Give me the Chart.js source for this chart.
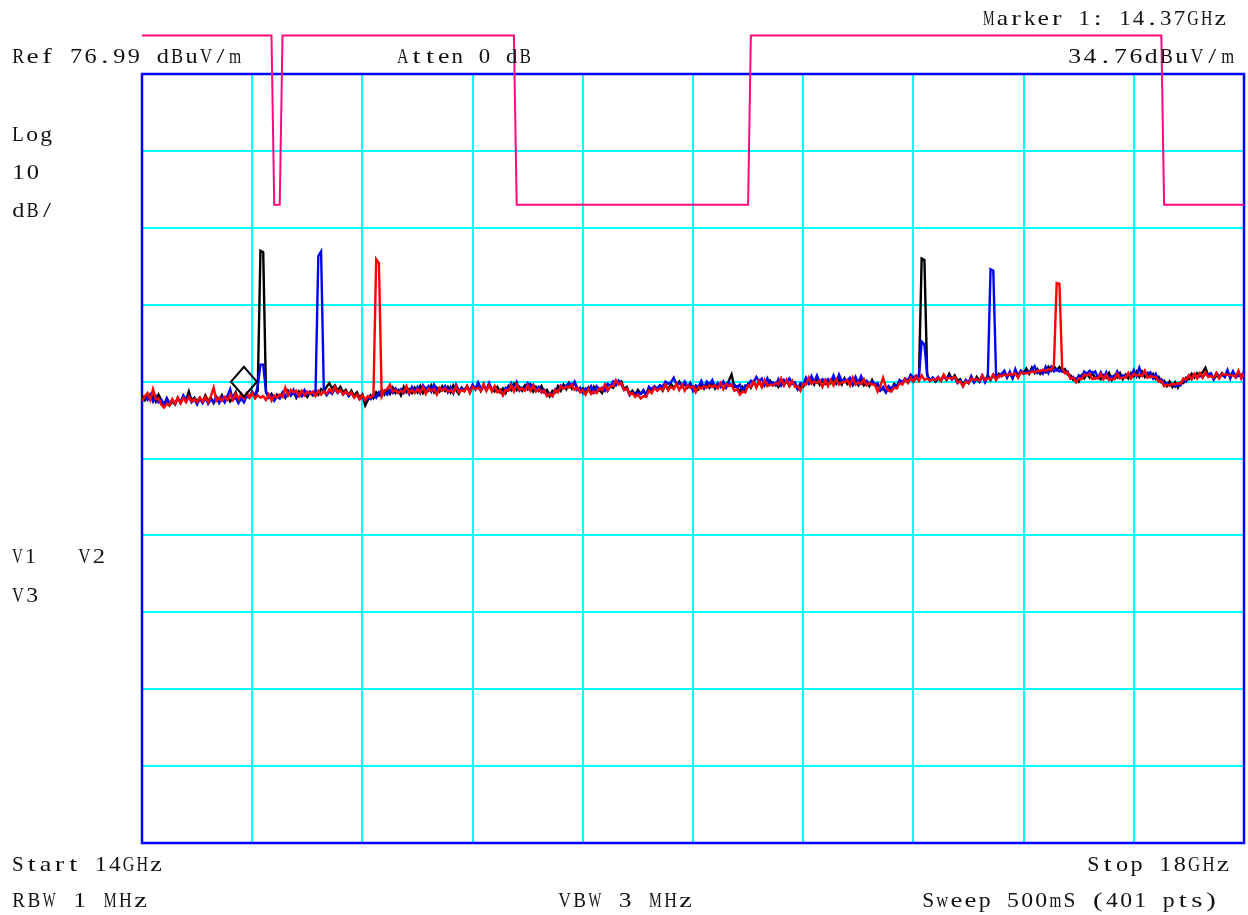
<!DOCTYPE html>
<html>
  <head>
    <meta charset="UTF-8">
    <title>Spectrum 14 - 18 GHz</title>
    <script src="https://cdn.jsdelivr.net/npm/chart.js"></script>
    <style>
      body {
        margin: 0;
        background: white;
      }
      canvas {
        display: block;
      }
    </style>
  </head>
  <body>
    <canvas id="sweep" width="1248" height="915"></canvas>

    <script>
      // analyzer settings
      const startGHz = 14;
      const stopGHz = 18;
      const sweepPoints = 401;
      const refLevel = 76.99;
      const dbPerDiv = 10;
      const divisions = 10;
      const markerFreq = 14.37;
      const markerLevel = 34.76;

      // limit line (dBuV/m), lower inside the restricted bands
      const limitFreq = [14, 14.47, 14.48, 14.50, 14.51, 15.35, 15.36, 16.20, 16.21, 17.70, 17.71, 18];
      const limitLevel = [82, 82, 60, 60, 82, 82, 60, 60, 82, 82, 60, 60];

      // V1 trace (black)
      const trace1 = [
        35.2, 34.6, 35.3, 34.7, 35.1, 34.4, 35.3, 34.6, 34.0, 34.8,
        33.9, 34.4, 34.0, 34.9, 34.2, 35.0, 34.6, 35.7, 34.5, 34.9,
        34.4, 34.9, 34.3, 35.2, 34.5, 34.9, 34.2, 35.0, 34.4, 35.2,
        34.5, 35.1, 34.4, 34.9, 35.6, 34.6, 35.2, 34.76, 35.3, 35.0,
        35.7, 35.2, 35.8, 54.0, 53.8, 35.6, 35.0, 35.4, 34.7, 35.3,
        35.0, 35.5, 34.9, 35.8, 35.2, 35.6, 34.9, 35.7, 35.1, 35.4,
        35.0, 35.6, 35.2, 35.8, 35.3, 36.0, 35.7, 36.3, 36.8, 36.1,
        36.5, 35.8, 36.3, 35.6, 35.9, 35.2, 35.8, 35.1, 35.6, 34.9,
        35.3, 33.9, 34.6, 35.2, 34.8, 35.6, 35.2, 35.9, 35.3, 36.0,
        35.4, 36.2, 35.5, 35.9, 35.2, 36.3, 35.6, 36.0, 35.5, 36.2,
        35.6, 36.4, 35.5, 36.1, 35.8, 36.5, 35.6, 36.2, 35.7, 36.4,
        35.8, 36.3, 35.6, 36.5, 35.9, 35.4, 36.2, 35.8, 36.4, 35.7,
        36.4, 36.0, 36.7, 35.8, 36.5, 35.9, 36.6, 36.0, 35.7, 36.3,
        35.6, 36.1, 35.5, 36.4, 35.9, 36.7, 35.9, 36.3, 35.8, 36.5,
        36.0, 36.6, 35.7, 36.3, 35.8, 36.4, 35.6, 35.9, 35.1, 35.8,
        35.6, 36.4, 35.8, 36.6, 36.0, 36.8, 36.1, 36.9, 36.2, 35.8,
        36.1, 35.4, 36.2, 35.5, 36.3, 35.6, 35.9, 35.5, 36.5, 35.8,
        36.4, 36.2, 37.1, 36.8, 37.0, 36.0, 36.3, 35.4, 35.8, 35.3,
        35.9, 35.4, 35.7, 35.3, 36.2, 35.6, 36.3, 35.9, 36.4, 35.8,
        36.6, 35.9, 36.7, 36.2, 36.5, 37.0, 36.3, 36.7, 36.2, 36.8,
        35.9, 36.4, 36.0, 36.6, 36.1, 36.7, 36.2, 36.9, 36.1, 36.7,
        36.4, 36.9, 36.3, 37.1, 37.9, 36.3, 36.4, 35.6, 36.3, 35.7,
        36.7, 36.2, 36.9, 36.4, 37.0, 36.3, 36.8, 36.5, 37.1, 36.5,
        36.8, 36.3, 36.9, 36.5, 37.2, 36.4, 36.9, 36.6, 36.0, 36.4,
        36.3, 37.0, 36.7, 37.3, 36.6, 37.4, 36.6, 37.1, 36.7, 37.2,
        36.8, 37.3, 36.7, 37.2, 36.6, 37.4, 36.7, 37.2, 36.5, 37.1,
        36.5, 37.2, 36.5, 36.9, 36.4, 37.2, 36.5, 36.6, 35.8, 36.1,
        35.6, 36.3, 35.8, 36.7, 36.4, 37.1, 36.7, 37.3, 36.9, 37.4,
        37.0, 37.5, 37.2, 53.0, 52.8, 37.8, 37.1, 37.5, 37.0, 37.4,
        37.1, 37.8, 37.2, 38.0, 37.3, 37.8, 37.1, 37.3, 36.6, 37.1,
        36.8, 37.5, 36.9, 37.6, 37.0, 37.7, 37.1, 37.8, 37.2, 37.9,
        37.3, 38.0, 37.7, 38.3, 37.6, 38.1, 37.5, 38.2, 37.7, 38.4,
        38.1, 38.7, 38.0, 38.8, 38.1, 38.6, 38.0, 38.5, 38.2, 38.9,
        38.4, 39.0, 38.5, 38.9, 38.3, 38.6, 37.9, 37.8, 37.2, 37.4,
        37.0, 37.8, 37.4, 38.0, 37.5, 38.1, 37.4, 37.7, 37.3, 37.8,
        37.5, 38.1, 37.2, 37.8, 37.5, 38.1, 37.3, 37.9, 37.4, 38.1,
        37.7, 38.3, 37.6, 38.3, 37.6, 38.1, 37.6, 38.0, 37.3, 37.6,
        36.9, 37.1, 36.4, 37.0, 36.3, 36.9, 36.2, 36.9, 36.8, 37.5,
        37.3, 38.0, 37.5, 38.1, 37.8, 38.2, 38.8, 37.8, 38.0, 37.3,
        37.8, 37.5, 38.1, 37.6, 38.2, 37.7, 38.3, 37.6, 38.1, 37.7, 38.1
      ];

      // V2 trace (blue)
      const trace2 = [
        34.5, 35.0, 34.6, 35.3, 34.4, 35.1, 34.3, 34.6, 33.9, 34.8,
        34.2, 34.6, 34.1, 34.8, 34.3, 35.2, 34.5, 35.1, 34.3, 34.7,
        34.0, 34.8, 34.2, 34.9, 34.1, 34.7, 34.3, 35.0, 34.2, 34.9,
        34.3, 35.1, 36.0, 34.6, 34.9, 34.2, 34.8, 34.3, 35.1, 34.9,
        35.6, 35.0, 36.4, 39.2, 39.2, 35.7, 34.9, 35.2, 34.5, 35.1,
        34.8, 35.6, 35.0, 35.7, 35.2, 35.9, 35.0, 35.4, 35.1, 35.9,
        35.3, 35.7, 35.3, 35.9, 53.3, 53.9, 35.8, 35.2, 35.7, 35.4,
        36.1, 35.5, 35.9, 35.3, 35.7, 35.1, 35.5, 35.0, 35.3, 34.7,
        35.0, 34.6, 34.9, 34.7, 35.3, 34.9, 35.6, 35.1, 35.8, 35.3,
        35.9, 35.5, 36.1, 35.6, 36.0, 35.5, 36.2, 35.4, 36.3, 35.7,
        36.3, 35.5, 36.5, 36.0, 36.4, 35.7, 36.6, 35.8, 36.1, 35.9,
        36.4, 35.6, 36.3, 35.5, 36.6, 35.8, 36.1, 35.9, 36.4, 35.8,
        36.6, 36.0, 36.9, 36.1, 36.3, 35.9, 36.8, 35.9, 36.1, 35.7,
        35.9, 35.3, 36.2, 36.0, 36.8, 36.0, 36.9, 35.8, 36.2, 35.9,
        36.8, 36.4, 36.6, 35.9, 36.3, 35.6, 35.9, 35.2, 35.5, 35.1,
        36.0, 35.7, 36.5, 36.2, 36.5, 36.8, 36.5, 37.0, 35.9, 36.2,
        35.5, 36.1, 35.9, 36.4, 35.6, 36.4, 36.0, 36.2, 35.8, 36.7,
        36.4, 37.0, 36.5, 37.1, 36.6, 35.9, 36.1, 35.2, 35.6, 35.2,
        35.6, 35.4, 35.9, 35.2, 36.3, 36.0, 36.4, 36.1, 36.5, 36.3,
        37.0, 36.7, 36.9, 37.5, 36.6, 36.8, 36.4, 37.0, 36.3, 36.7,
        35.8, 36.5, 36.3, 37.1, 36.2, 37.0, 36.7, 37.2, 36.3, 36.8,
        36.3, 37.0, 36.2, 36.9, 36.4, 36.6, 36.2, 36.6, 35.8, 36.5,
        36.4, 37.1, 36.9, 37.6, 37.0, 37.4, 36.5, 37.4, 36.6, 36.9,
        36.5, 37.3, 36.5, 37.2, 36.9, 37.4, 36.7, 36.9, 36.0, 36.8,
        36.6, 37.5, 36.8, 37.7, 36.9, 37.8, 36.9, 37.3, 37.0, 37.3,
        36.9, 37.8, 36.9, 37.9, 37.0, 37.3, 37.1, 37.5, 36.7, 37.6,
        36.8, 37.7, 36.8, 37.1, 36.7, 37.0, 36.6, 36.8, 35.9, 36.3,
        35.6, 36.4, 36.1, 36.5, 36.3, 37.2, 36.9, 37.4, 37.1, 37.9,
        37.5, 37.8, 37.6, 42.2, 41.8, 37.9, 37.1, 37.5, 37.2, 37.6,
        37.2, 37.6, 37.4, 37.7, 37.3, 37.5, 36.8, 37.1, 36.4, 37.2,
        36.8, 37.7, 36.9, 37.3, 37.0, 37.8, 36.9, 37.6, 51.6, 51.4,
        37.9, 37.6, 38.0, 38.4, 37.5, 38.3, 37.4, 38.6, 37.7, 38.4,
        38.0, 38.3, 38.2, 38.5, 39.0, 38.1, 38.4, 38.0, 38.9, 38.1,
        38.9, 38.3, 38.6, 38.3, 38.5, 38.1, 38.3, 37.4, 37.6, 37.0,
        37.8, 37.5, 38.3, 38.0, 38.4, 38.1, 38.3, 37.5, 38.2, 37.4,
        38.2, 37.4, 37.7, 37.5, 38.3, 37.5, 37.8, 37.6, 38.0, 37.7,
        38.5, 37.7, 38.8, 37.8, 38.1, 38.0, 38.2, 37.4, 38.0, 37.1,
        37.3, 36.6, 36.8, 36.5, 36.7, 36.3, 36.6, 36.5, 37.3, 37.0,
        37.8, 37.4, 37.9, 37.5, 37.7, 37.6, 38.0, 37.9, 38.1, 37.3,
        38.1, 37.7, 37.9, 37.6, 38.5, 37.4, 38.3, 37.5, 37.8, 37.6, 38.3
      ];

      // V3 trace (red)
      const trace3 = [
        34.4, 35.1, 35.5, 34.6, 36.0, 34.7, 34.8, 34.0, 33.6, 34.1,
        33.9, 34.7, 34.1, 34.9, 34.2, 34.9, 34.3, 35.0, 34.4, 34.7,
        34.3, 34.9, 34.4, 35.0, 34.3, 35.1, 36.2, 34.5, 34.9, 34.5,
        35.0, 34.6, 35.3, 34.6, 35.4, 34.7, 35.4, 34.8, 35.5, 34.9,
        35.5, 34.8, 35.2, 34.9, 35.1, 34.6, 35.3, 34.5, 35.2, 34.9,
        35.3, 35.0, 36.2, 35.2, 35.9, 35.6, 35.8, 35.1, 35.8, 35.2,
        35.7, 35.4, 35.7, 35.1, 35.8, 35.3, 35.7, 35.4, 36.0, 35.6,
        36.3, 35.6, 35.9, 35.3, 35.7, 35.3, 35.6, 34.9, 35.3, 34.7,
        35.2, 34.6, 35.1, 34.9, 35.2, 52.9, 52.4, 35.1, 35.8, 36.0,
        36.6, 35.7, 35.9, 35.5, 35.8, 35.6, 36.4, 35.5, 35.9, 35.5,
        36.0, 35.6, 36.3, 35.4, 36.1, 35.8, 36.0, 35.3, 36.2, 35.8,
        36.1, 35.7, 35.9, 35.6, 36.4, 35.6, 35.9, 35.7, 36.4, 35.5,
        36.3, 36.0, 36.2, 35.8, 36.7, 35.8, 36.5, 35.7, 36.4, 35.6,
        35.9, 35.2, 35.9, 35.8, 36.5, 35.7, 36.6, 35.9, 36.1, 35.8,
        36.5, 35.8, 36.5, 35.7, 36.0, 35.6, 35.8, 35.1, 35.4, 35.1,
        35.9, 35.6, 36.4, 36.1, 36.3, 36.2, 36.6, 35.9, 36.2, 35.6,
        35.9, 35.3, 36.0, 35.4, 35.7, 35.5, 36.1, 35.9, 36.6, 35.8,
        36.4, 36.4, 37.2, 36.6, 36.8, 35.9, 36.1, 35.3, 35.5, 35.0,
        35.3, 34.8, 35.1, 35.0, 35.8, 35.5, 36.2, 35.8, 36.1, 35.9,
        36.6, 35.9, 36.3, 36.0, 36.7, 35.9, 36.6, 35.8, 36.5, 36.2,
        36.4, 35.6, 36.3, 36.1, 36.4, 36.2, 36.5, 36.3, 36.5, 36.1,
        36.8, 36.0, 36.7, 36.4, 36.6, 35.8, 36.0, 35.3, 35.7, 35.6,
        36.5, 36.3, 37.0, 36.2, 37.1, 36.3, 37.2, 36.4, 36.6, 36.5,
        36.8, 36.6, 37.4, 36.5, 37.2, 36.4, 37.1, 36.3, 36.4, 35.8,
        36.7, 36.6, 37.5, 36.7, 37.0, 36.8, 37.1, 36.3, 37.2, 36.4,
        37.2, 36.5, 37.3, 36.6, 36.9, 36.9, 37.2, 36.5, 37.5, 36.6,
        36.9, 36.7, 37.3, 36.5, 36.8, 36.6, 36.6, 35.7, 36.4, 37.5,
        36.3, 35.8, 35.7, 36.2, 36.1, 36.8, 36.6, 37.3, 36.8, 37.5,
        37.0, 37.7, 37.1, 37.8, 37.2, 37.4, 37.1, 37.3, 37.2, 37.5,
        37.1, 37.9, 37.3, 37.5, 37.4, 37.6, 36.9, 37.0, 36.4, 37.0,
        36.8, 37.4, 37.2, 37.3, 37.1, 37.8, 37.2, 37.4, 37.3, 37.9,
        37.2, 37.8, 37.7, 37.9, 37.8, 38.0, 37.9, 38.1, 37.5, 38.2,
        38.0, 38.1, 38.1, 38.3, 38.2, 38.4, 38.3, 38.5, 38.4, 38.6,
        38.5, 39.1, 49.8, 49.7, 38.8, 38.1, 38.2, 37.4, 37.5, 36.9,
        37.4, 37.3, 37.9, 37.8, 38.0, 37.3, 37.5, 37.4, 38.0, 37.3,
        37.9, 37.2, 37.4, 37.3, 38.0, 37.4, 37.5, 37.5, 38.1, 37.4,
        38.0, 37.8, 37.9, 37.7, 38.4, 37.5, 37.7, 37.6, 37.6, 37.0,
        37.1, 36.4, 36.6, 36.5, 36.7, 36.6, 36.8, 36.7, 37.4, 37.2,
        37.8, 37.3, 38.0, 37.4, 38.1, 37.5, 38.2, 37.6, 37.7, 37.5,
        38.1, 37.4, 38.0, 37.9, 37.9, 37.8, 37.8, 37.6, 38.4, 37.4, 38.1
      ];

      // sweep frequencies for the 401 trace points
      const freqs = [];
      for (let i = 0; i < sweepPoints; i++) {
        freqs.push(startGHz + i * (stopGHz - startGHz) / (sweepPoints - 1));
      }

      function toPoints(levels, xs) {
        return levels.map((v, i) => ({ x: xs[i], y: v }));
      }

      const bottomLevel = refLevel - divisions * dbPerDiv;
      const textFont = "22px 'Liberation Serif'";

      // screen annotations: text, left, right, baseline
      const annotations = [
        ["Marker 1: " + markerFreq.toFixed(2) + "GHz", 982, 1225, 25],
        ["Ref " + refLevel.toFixed(2) + " dBuV/m", 11, 240, 63],
        ["Atten 0 dB", 396, 530, 63],
        [markerLevel.toFixed(2) + "dBuV/m", 1067, 1233, 63],
        ["Log", 11, 51, 141],
        [String(dbPerDiv), 11, 38, 179],
        ["dB/", 11, 52, 217],
        ["V1", 11, 35, 563],
        ["V2", 77, 104, 563],
        ["V3", 11, 37, 602],
        ["Start " + startGHz + "GHz", 11, 161, 871],
        ["Stop " + stopGHz + "GHz", 1086, 1228, 871],
        ["RBW 1 MHz", 11, 146, 907],
        ["VBW 3 MHz", 557, 691, 907],
        ["Sweep 500mS (" + sweepPoints + " pts)", 921, 1216, 907]
      ];

      // fixed-pitch text: each glyph centred in an even cell and widened
      // (or squeezed) towards the cell width
      function monoText(ctx, text, left, right, y) {
        const chars = Array.from(text);
        const widths = chars.map(ch => ctx.measureText(ch).width);
        const step = chars.length > 1 ? (right - left) / (chars.length - 0.15) : right - left;
        const cellMax = step * 0.84;
        chars.forEach((ch, k) => {
          const w = widths[k];
          const sx = w > 0 ? Math.min(1.3, cellMax / w) : 1;
          let cx = left + step * (k + 0.5);
          if (k === 0) cx = Math.max(cx, left + w * sx / 2);
          ctx.save();
          ctx.translate(cx, y);
          ctx.scale(sx, 1);
          ctx.fillText(ch, 0, 0);
          ctx.restore();
        });
      }

      const screenPlugin = {
        id: "screen",
        beforeDatasetsDraw(chart) {
          const { ctx, chartArea } = chart;
          ctx.save();
          ctx.strokeStyle = "#0000ff";
          ctx.lineWidth = 2.5;
          ctx.strokeRect(chartArea.left, chartArea.top,
            chartArea.right - chartArea.left, chartArea.bottom - chartArea.top);
          ctx.restore();
        },
        afterDatasetsDraw(chart) {
          const { ctx } = chart;
          const mx = chart.scales.x.getPixelForValue(markerFreq);
          const my = chart.scales.y.getPixelForValue(markerLevel) - 2;
          ctx.save();
          ctx.strokeStyle = "#000";
          ctx.lineWidth = 2;
          ctx.beginPath();
          ctx.moveTo(mx, my);
          ctx.lineTo(mx + 13, my - 15);
          ctx.lineTo(mx, my - 30);
          ctx.lineTo(mx - 13, my - 15);
          ctx.closePath();
          ctx.stroke();
          ctx.restore();
        },
        afterDraw(chart) {
          const { ctx } = chart;
          ctx.save();
          ctx.font = textFont;
          ctx.fillStyle = "#111";
          ctx.textBaseline = "alphabetic";
          ctx.textAlign = "center";
          annotations.forEach(a => monoText(ctx, a[0], a[1], a[2], a[3]));
          ctx.restore();
        }
      };

      const ctx = document.getElementById("sweep").getContext("2d");
      const sweepChart = new Chart(ctx, {
        type: "line",
        data: {
          datasets: [
            {
              label: "Limit",
              data: toPoints(limitLevel, limitFreq),
              borderColor: "#ff0a7c",
              borderWidth: 2,
              clip: false,
              order: 0
            },
            {
              label: "V3",
              data: toPoints(trace3, freqs),
              borderColor: "#ff0000",
              borderWidth: 2.4,
              order: 1
            },
            {
              label: "V2",
              data: toPoints(trace2, freqs),
              borderColor: "#0000ff",
              borderWidth: 2.4,
              order: 2
            },
            {
              label: "V1",
              data: toPoints(trace1, freqs),
              borderColor: "#000000",
              borderWidth: 2.4,
              order: 3
            }
          ]
        },
        options: {
          responsive: false,
          animation: false,
          layout: {
            padding: { left: 142, top: 74, right: 4, bottom: 72 }
          },
          elements: {
            point: { radius: 0 },
            line: { tension: 0, fill: false }
          },
          plugins: {
            legend: { display: false },
            tooltip: { enabled: false }
          },
          scales: {
            x: {
              type: "linear",
              min: startGHz,
              max: stopGHz,
              afterBuildTicks: (scale) => {
                const ticks = [];
                for (let k = 0; k <= divisions; k++) {
                  ticks.push({ value: startGHz + k * (stopGHz - startGHz) / divisions });
                }
                scale.ticks = ticks;
              },
              ticks: { display: false },
              grid: { color: "#00ffff", lineWidth: 2, drawTicks: false },
              border: { display: false }
            },
            y: {
              type: "linear",
              min: bottomLevel,
              max: refLevel,
              afterBuildTicks: (scale) => {
                const ticks = [];
                for (let k = 0; k <= divisions; k++) {
                  ticks.push({ value: refLevel - k * dbPerDiv });
                }
                scale.ticks = ticks;
              },
              ticks: { display: false },
              grid: { color: "#00ffff", lineWidth: 2, drawTicks: false },
              border: { display: false }
            }
          }
        },
        plugins: [screenPlugin]
      });
    </script>
  </body>
</html>
